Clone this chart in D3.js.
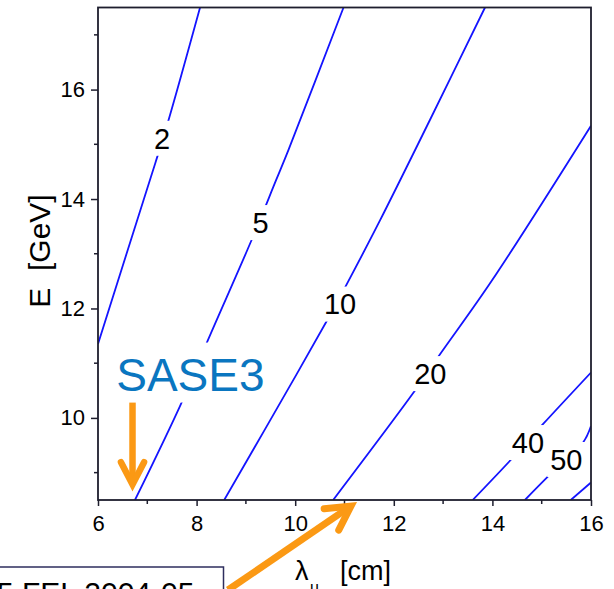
<!DOCTYPE html>
<html><head><meta charset="utf-8">
<script src="https://cdn.jsdelivr.net/npm/d3@7"></script>
<style>
body{margin:0;background:#fff;overflow:hidden}
svg{display:block}
text{font-family:"Liberation Sans",Arial,Helvetica,sans-serif}
</style>
</head><body>
<svg id="chart" width="614" height="589"></svg>
<script>
// ---- data ----
const xDomain = [6, 16];
const yDomain = [8.5, 17.5];
const xTicksMajor = [6, 8, 10, 12, 14, 16];
const xTicksMinor = [7, 9, 11, 13, 15];
const yTicksMajor = [10, 12, 14, 16];
const yTicksMinor = [9, 11, 13, 15, 17];
const xLabel = "λ";
const xLabelSub = "u";
const xLabelUnit = "[cm]";
const yLabel = "E  [GeV]";

// contour levels and their polylines [lambda_u (cm), E (GeV)]
const contourLevels = ["2", "5", "10", "20", "40", "50", ""];
const contour2  = [[6.00, 11.35], [6.92, 13.97], [7.16, 14.65], [7.43, 15.44], [8.07, 17.50]];
const contour5  = [[6.75, 8.50], [7.70, 10.29], [8.20, 11.36], [9.12, 13.26], [9.61, 14.34], [9.86, 14.89], [10.98, 17.50]];
const contour10 = [[8.56, 8.50], [10.03, 10.80], [10.64, 11.77], [11.02, 12.40], [11.72, 13.61], [12.73, 15.44], [13.85, 17.50]];
const contour20 = [[10.77, 8.50], [12.43, 10.50], [12.92, 11.14], [13.99, 12.51], [16.00, 15.34]];
const contour40 = [[13.60, 8.50], [14.39, 9.25], [15.03, 9.89], [16.00, 10.83]];
const contour50 = [[14.66, 8.50], [15.13, 8.93], [15.84, 9.55], [16.00, 9.85]];
const contour60 = [[15.59, 8.50], [16.00, 8.82]];
const contours = [contour2, contour5, contour10, contour20, contour40, contour50, contour60];
const labelPositions = [[7.30, 15.11], [9.30, 13.57], [10.91, 12.08], [12.74, 10.81], [14.72, 9.55], [15.50, 9.24], null];

// annotation
const sase3Text = "SASE3";
const sase3Pos = [6.37, 10.5];
const sase3Arrow = [[6.70, 10.28], [6.70, 8.73]];
const refText = "5 FEL 2004-05";

// ---- layout ----
const svg = d3.select("#chart");
const x = d3.scaleLinear().domain(xDomain).range([98, 591]);
const y = d3.scaleLinear().domain(yDomain).range([500, 7.5]);
const lineColor = "#1414ff";
const axisColor = "#1e1e2e";
const orange = "#fb9914";

svg.append("rect").attr("width", 614).attr("height", 589).attr("fill", "#fff");

svg.append("defs").append("clipPath").attr("id", "plotclip")
  .append("rect").attr("x", x(xDomain[0])).attr("y", y(yDomain[1]))
  .attr("width", x(xDomain[1]) - x(xDomain[0])).attr("height", y(yDomain[0]) - y(yDomain[1]));

const plot = svg.append("g").attr("clip-path", "url(#plotclip)");
const line = d3.line().x(d => x(d[0])).y(d => y(d[1])).curve(d3.curveCatmullRom.alpha(0.5));

plot.selectAll("path.contour").data(contours).join("path")
  .attr("class", "contour")
  .attr("d", line)
  .attr("fill", "none")
  .attr("stroke", lineColor)
  .attr("stroke-width", 1.8);

// contour labels with white gap behind
const labG = plot.append("g");
contourLevels.forEach((lab, i) => {
  const p = labelPositions[i];
  if (!p || !lab) return;
  const cx = x(p[0]), cy = y(p[1]);
  const g = labG.append("g");
  const r = g.append("rect").attr("fill", "#fff");
  const t = g.append("text").attr("x", cx).attr("y", cy + 10.4)
    .attr("text-anchor", "middle").attr("font-size", 29).attr("fill", "#000").text(lab);
  const bb = t.node().getBBox();
  r.attr("x", cx - bb.width / 2 - 3).attr("y", cy - 17.5).attr("width", bb.width + 6).attr("height", 35);
});

// SASE3 annotation
const sg = svg.append("g");
const st = sg.append("text").attr("x", x(sase3Pos[0])).attr("y", y(sase3Pos[1]))
  .attr("font-size", 46).attr("fill", "#0a76c0").text(sase3Text);
const sbb = st.node().getBBox();
sg.insert("rect", "text").attr("x", sbb.x - 3).attr("y", y(sase3Pos[1]) - 48)
  .attr("width", sbb.width + 6).attr("height", 60).attr("fill", "#fff");

function arrow(g, x1, y1, x2, y2, head, ang, w) {
  const a = Math.atan2(y1 - y2, x1 - x2);
  g.append("line").attr("x1", x1).attr("y1", y1).attr("x2", x2 + Math.cos(a) * 3).attr("y2", y2 + Math.sin(a) * 3)
    .attr("stroke", orange).attr("stroke-width", w);
  const p1 = [x2 + head * Math.cos(a + ang), y2 + head * Math.sin(a + ang)];
  const p2 = [x2 + head * Math.cos(a - ang), y2 + head * Math.sin(a - ang)];
  g.append("path").attr("d", `M${p1[0]},${p1[1]}L${x2},${y2}L${p2[0]},${p2[1]}`)
    .attr("fill", "none").attr("stroke", orange).attr("stroke-width", w)
    .attr("stroke-linejoin", "miter").attr("stroke-linecap", "round");
}
const ag = svg.append("g");
arrow(ag, x(sase3Arrow[0][0]), y(sase3Arrow[0][1]), x(sase3Arrow[1][0]), y(sase3Arrow[1][1]) - 3, 25, 0.48, 6.5);

// ---- axes ----
const xAxis = svg.append("g").attr("transform", `translate(0,${y(yDomain[0])})`)
  .call(d3.axisBottom(x).tickValues(xTicksMajor).tickSize(6).tickSizeOuter(0).tickFormat(d3.format("d")));
xAxis.selectAll("text").attr("y", 31).attr("dy", null).attr("font-size", 22).attr("fill", "#000")
  .style("font-family", '"Liberation Sans",Arial,sans-serif');
xAxis.append("g").selectAll("line").data(xTicksMinor).join("line")
  .attr("x1", d => x(d)).attr("x2", d => x(d)).attr("y1", 0).attr("y2", 4).attr("stroke", axisColor).attr("stroke-width", 1.5);

const yAxis = svg.append("g").attr("transform", `translate(${x(xDomain[0])},0)`)
  .call(d3.axisLeft(y).tickValues(yTicksMajor).tickSize(7).tickPadding(6).tickSizeOuter(0).tickFormat(d3.format("d")));
yAxis.selectAll("text").attr("font-size", 22).attr("fill", "#000")
  .style("font-family", '"Liberation Sans",Arial,sans-serif');
yAxis.append("g").selectAll("line").data(yTicksMinor).join("line")
  .attr("y1", d => y(d)).attr("y2", d => y(d)).attr("x1", 0).attr("x2", -4).attr("stroke", axisColor).attr("stroke-width", 1.5);

svg.selectAll(".tick line").attr("stroke", axisColor).attr("stroke-width", 1.5);
svg.selectAll(".domain").remove();

// frame
svg.append("rect").attr("x", x(xDomain[0])).attr("y", y(yDomain[1]))
  .attr("width", x(xDomain[1]) - x(xDomain[0])).attr("height", y(yDomain[0]) - y(yDomain[1]))
  .attr("fill", "none").attr("stroke", axisColor).attr("stroke-width", 1.8);

// axis titles
svg.append("text").attr("transform", "translate(50,251) rotate(-90)")
  .attr("text-anchor", "middle").attr("font-size", 30).attr("fill", "#000")
  .attr("xml:space", "preserve").style("white-space", "pre").text(yLabel);

const xt = svg.append("text").attr("y", 580).attr("font-size", 27).attr("fill", "#000");
xt.append("tspan").attr("x", 295).text(xLabel);
xt.append("tspan").attr("x", 310).attr("y", 593).attr("font-size", 16).text(xLabelSub);
xt.append("tspan").attr("x", 340).attr("y", 580).text(xLabelUnit);

// reference box (cut at bottom, as in the reference)
svg.append("rect").attr("x", -5).attr("y", 567).attr("width", 228.5).attr("height", 45)
  .attr("fill", "#fff").attr("stroke", "#2e2e5e").attr("stroke-width", 1.5);
svg.append("text").attr("x", -3).attr("y", 603).attr("font-size", 30).attr("fill", "#000").text(refText);

// diagonal arrow
arrow(svg.append("g"), 228, 590, 351, 506, 27, 0.5, 7);
</script>
</body></html>
